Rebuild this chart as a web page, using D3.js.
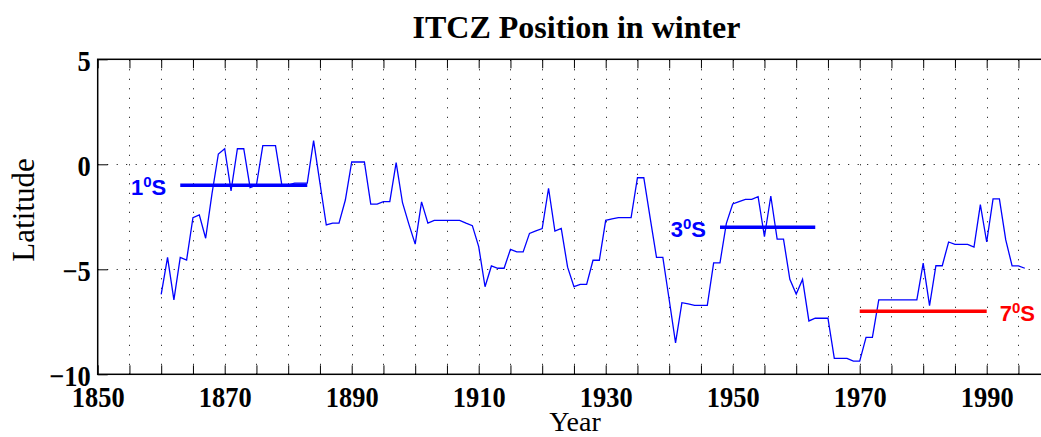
<!DOCTYPE html>
<html>
<head>
<meta charset="utf-8">
<script src="https://cdn.jsdelivr.net/npm/d3@7/dist/d3.min.js"></script>
<style>
  html, body { margin: 0; padding: 0; background: #fff; }
  svg { display: block; }
</style>
</head>
<body>
<svg id="chart" width="1041" height="437"></svg>
<script>
// Winter ITCZ latitude, one value per year (1860-1996)
const firstYear = 1860;
const latitude = [
  -6.19, -4.43, -6.46, -4.43, -4.56, -2.54, -2.41, -3.52, -1.40, 0.49,
   0.74, -1.27,  0.74,  0.74, -1.11, -0.99,  0.89,  0.89,  0.89, -0.99,
  -0.99, -0.90, -0.90, -0.90,  1.13, -0.90, -2.89, -2.80, -2.80, -1.70,
   0.11,  0.11,  0.11, -1.90, -1.90, -1.78, -1.78,  0.08, -1.83, -2.85,
  -3.80, -1.79, -2.80, -2.67, -2.67, -2.67, -2.67, -2.67, -2.80, -2.92,
  -3.92, -5.83, -4.84, -4.95, -4.95, -4.05, -4.17, -4.17, -3.29, -3.17,
  -3.06, -1.14, -3.18, -3.05, -4.90, -5.83, -5.72, -5.72, -4.57, -4.57,
  -2.67, -2.60, -2.54, -2.54, -2.54, -0.64, -0.64, -2.55, -4.43, -4.43,
  -6.45, -8.50, -6.59, -6.65, -6.72, -6.72, -6.72, -4.69, -4.69, -2.81,
  -1.89, -1.78, -1.67, -1.67, -1.54, -3.45, -1.51, -3.56, -3.56, -5.48,
  -6.18, -5.48, -7.46, -7.33, -7.33, -7.33, -9.24, -9.24, -9.24, -9.37,
  -9.37, -8.24, -8.24, -6.46, -6.46, -6.46, -6.46, -6.46, -6.46, -6.46,
  -4.71, -6.73, -4.83, -4.83, -3.70, -3.81, -3.81, -3.81, -3.94, -1.92,
  -3.70, -1.65, -1.65, -3.60, -4.84, -4.84, -4.95
];
const years = latitude.map((_, i) => firstYear + i);

// Period means shown as horizontal bars
const periodStart = [1863, 1948, 1970];
const periodEnd   = [1883, 1963, 1990];
const periodLat   = [-1, -3, -7];
const periodColor = ["#0000ff", "#0000ff", "#ff0000"];
const periodLabelSide = ["left", "left", "right"];

// Axis ticks
const xTicks = d3.range(1850, 2000, 5);
const xLabels = [1850, 1870, 1890, 1910, 1930, 1950, 1970, 1990];
const yTicks = [5, 0, -5, -10];
const yGrid = [0, -5];

const svg = d3.select("#chart");
const W = 1041, H = 437;
const plotLeft = 97.7, plotTop = 59.3, plotBottom = 374.3;
const pxPerYear = 6.35;

const x = d3.scaleLinear().domain([1850, 2000]).range([plotLeft, plotLeft + 150 * pxPerYear]);
const y = d3.scaleLinear().domain([-10, 5]).range([plotBottom, plotTop]);

svg.append("rect").attr("width", W).attr("height", H).attr("fill", "#fff");

// Dotted grid
const grid = svg.append("g")
  .attr("stroke", "#000").attr("stroke-width", 1)
  .attr("stroke-dasharray", "1,8.5");
grid.selectAll("line.v").data(xTicks.filter(d => d > 1850)).join("line")
  .attr("class", "v")
  .attr("x1", d => Math.round(x(d)) + 0.5).attr("x2", d => Math.round(x(d)) + 0.5)
  .attr("y1", plotBottom).attr("y2", plotTop);
grid.selectAll("line.h").data(yGrid).join("line")
  .attr("class", "h")
  .attr("x1", plotLeft).attr("x2", x(2000))
  .attr("y1", d => Math.round(y(d)) + 0.5).attr("y2", d => Math.round(y(d)) + 0.5);

const serif = "'Liberation Serif', 'Times New Roman', serif";
const sx = 0.91;

// Bottom axis: inward ticks every 5 years, labels every 20
const xAxis = svg.append("g")
  .attr("transform", `translate(0,${plotBottom})`)
  .call(d3.axisBottom(x).tickValues(xTicks).tickSize(-9).tickSizeOuter(0)
    .tickFormat(d => xLabels.includes(d) ? String(d) : ""));
xAxis.select(".domain").remove();
xAxis.selectAll(".tick line").attr("stroke", "#000");
xAxis.selectAll(".tick text")
  .attr("y", 32.5).attr("dy", null)
  .attr("transform", `scale(${sx},1)`)
  .attr("fill", "#000")
  .style("font-family", serif).style("font-weight", "bold").style("font-size", "29px");

// Top axis: inward ticks only
const xTop = svg.append("g")
  .attr("transform", `translate(0,${plotTop})`)
  .call(d3.axisTop(x).tickValues(xTicks).tickSize(-9).tickSizeOuter(0).tickFormat(""));
xTop.select(".domain").remove();
xTop.selectAll(".tick line").attr("stroke", "#000");

// Left axis
const yAxis = svg.append("g")
  .attr("transform", `translate(${plotLeft},0)`)
  .call(d3.axisLeft(y).tickValues(yTicks).tickSize(-10).tickSizeOuter(0)
    .tickFormat(d => d < 0 ? "\u2212" + Math.abs(d) : String(d)));
yAxis.select(".domain").remove();
yAxis.selectAll(".tick line").attr("stroke", "#000");
yAxis.selectAll(".tick text")
  .attr("x", -7 / sx).attr("dy", null).attr("y", 10.7)
  .attr("transform", `scale(${sx},1)`)
  .attr("text-anchor", "end")
  .attr("fill", "#000")
  .style("font-family", serif).style("font-weight", "bold").style("font-size", "29px");

// Plot frame
svg.append("rect")
  .attr("x", plotLeft).attr("y", plotTop)
  .attr("width", x(2000) - plotLeft).attr("height", plotBottom - plotTop)
  .attr("fill", "none").attr("stroke", "#000").attr("stroke-width", 1.5);

// Data line
const line = d3.line().x((d, i) => x(years[i])).y(d => y(d));
svg.append("path")
  .datum(latitude)
  .attr("d", line)
  .attr("fill", "none")
  .attr("stroke", "#0000ff")
  .attr("stroke-width", 1.3)
  .attr("stroke-linejoin", "miter");

// Period mean bars and their labels
const periods = periodLat.map((lat, i) => ({
  lat, start: periodStart[i], end: periodEnd[i], color: periodColor[i], side: periodLabelSide[i]
}));
svg.selectAll("line.period").data(periods).join("line")
  .attr("class", "period")
  .attr("x1", d => x(d.start)).attr("x2", d => x(d.end))
  .attr("y1", d => y(d.lat)).attr("y2", d => y(d.lat))
  .attr("stroke", d => d.color).attr("stroke-width", 3.5);

const labels = svg.selectAll("text.period").data(periods).join("text")
  .attr("class", "period")
  .attr("x", d => d.side === "left" ? x(d.start) - 14 : x(d.end) + 13)
  .attr("y", d => y(d.lat) + 10)
  .attr("text-anchor", d => d.side === "left" ? "end" : "start")
  .attr("fill", d => d.color)
  .style("font-family", "'Liberation Sans', Arial, sans-serif")
  .style("font-weight", "bold")
  .style("font-size", "22px");
labels.append("tspan").text(d => String(Math.abs(d.lat)));
labels.append("tspan").attr("dy", -8).style("font-size", "15px").text("0");
labels.append("tspan").attr("dy", 8).text("S");

// Title and axis titles
svg.append("text")
  .attr("x", 576.5).attr("y", 38)
  .attr("text-anchor", "middle")
  .style("font-family", serif).style("font-weight", "bold").style("font-size", "32px")
  .text("ITCZ Position in winter");

svg.append("text")
  .attr("x", 575).attr("y", 431)
  .attr("text-anchor", "middle")
  .style("font-family", serif).style("font-size", "28px")
  .text("Year");

svg.append("text")
  .attr("transform", "translate(34,210) rotate(-90)")
  .attr("text-anchor", "middle")
  .style("font-family", serif).style("font-size", "31px")
  .text("Latitude");
</script>
</body>
</html>
